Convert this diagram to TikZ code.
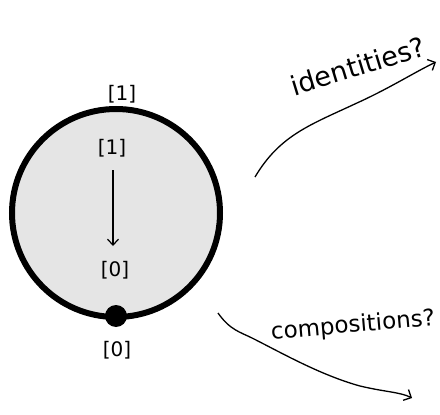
\documentclass[tikz,border=0pt]{standalone}
\usepackage{fontspec}
\setmainfont{DejaVu Sans}
\usetikzlibrary{arrows.meta}
\begin{document}
\begin{tikzpicture}[x=1pt,y=-1pt,
  lbl/.style={font=\fontsize{20}{22}\selectfont, inner sep=0pt},
  hand/.style={font=\fontsize{23}{25}\selectfont, inner sep=0pt},
  conn/.style={line width=1.3pt, -{Straight Barb[length=6pt,width=12pt]}}]
\useasboundingbox (0,0) rectangle (440,415);
\node[circle, draw, line width=6pt, fill=black!10, minimum size=208pt, inner sep=0pt] (disk) at (116,213) {};
\node[circle, fill=black, minimum size=22pt, inner sep=0pt] (dot) at (116,316) {};
\node[lbl] (top) at (122,94) {[1]};
\node[lbl] (in1) at (112,148) {[1]};
\node[lbl] (in0) at (115,270) {[0]};
\node[lbl] (bot) at (117,350) {[0]};
\coordinate (a1) at (113,170);
\coordinate (a2) at (113,246);
\draw[line width=1.2pt, -{Straight Barb[length=6pt,width=11pt]}] (a1) -- (a2);
\coordinate (i1) at (255,177);
\coordinate (i2) at (436,62);
\draw[conn] (i1) .. controls (280,135) and (310,125) .. (357,103) .. controls (390,88) and (415,72) .. (i2);
\node[hand, font=\fontsize{27}{29}\selectfont, rotate=17] (idt) at (358,66) {identities?};
\coordinate (c1) at (218,313);
\coordinate (c2) at (412,398);
\draw[conn] (c1) .. controls (230,330) and (240,332) .. (252,338) .. controls (280,352) and (320,375) .. (360,386) .. controls (385,392) and (400,392) .. (c2);
\node[hand, rotate=5] (cmp) at (353,326) {compositions?};
\end{tikzpicture}
\end{document}
